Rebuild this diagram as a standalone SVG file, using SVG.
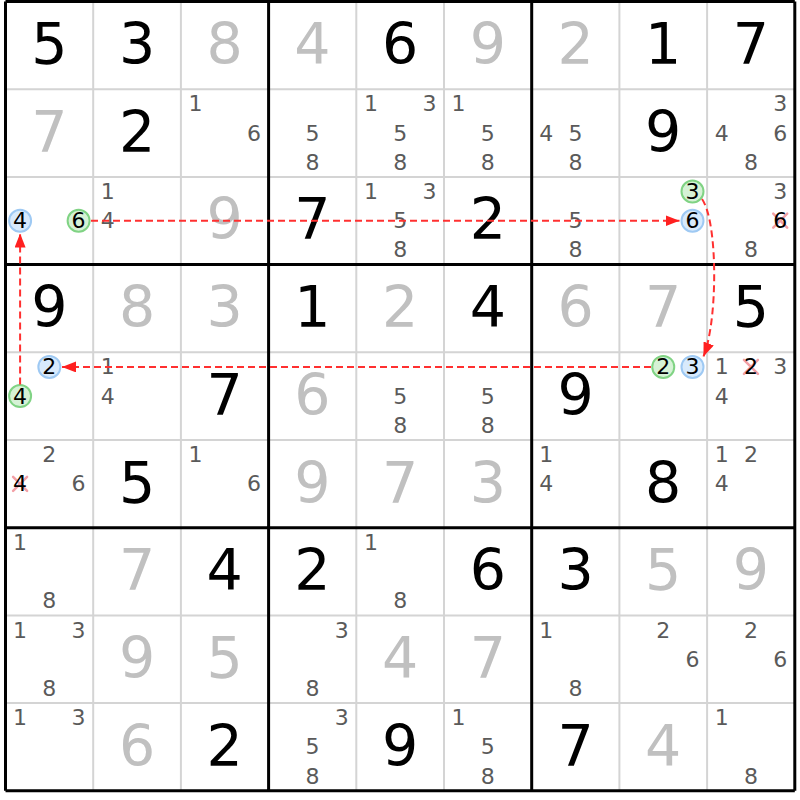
<svg xmlns="http://www.w3.org/2000/svg" width="800" height="800" viewBox="0 0 800 800">
<style>
text{font-family:"DejaVu Sans","Liberation Sans",sans-serif;text-anchor:middle}
.b{font-size:57px}
.k{fill:#000}
.g{fill:#c0c0c0}
.c{font-size:22px;fill:#5a5a5a}
.h{font-size:22px;fill:#000}
.thin{stroke:#d4d4d4;stroke-width:2}
.thick{stroke:#000;stroke-width:3}
.cb{fill:#d8eafc;stroke:#9ec9f3;stroke-width:2}
.cg{fill:#d6f2d6;stroke:#80d384;stroke-width:2}
.x{stroke:#f3a0a6;stroke-width:2.5;stroke-linecap:round}
.link{fill:none;stroke:#ff3030;stroke-width:2;stroke-dasharray:7 4}
</style>
<defs>
<marker id="ah" markerUnits="userSpaceOnUse" markerWidth="14" markerHeight="11" refX="14" refY="5.5" orient="auto">
<path d="M0,0 L14,5.5 L0,11 z" fill="#ff2020"/>
</marker>
</defs>
<rect x="0" y="0" width="800" height="800" fill="#fff"/>
<g id="grid">
<path class="thin" d="M93.2,1.5V790.8M180.9,1.5V790.8M356.3,1.5V790.8M444,1.5V790.8M619.4,1.5V790.8M707.1,1.5V790.8M5.5,89.2H794.8M5.5,176.9H794.8M5.5,352.3H794.8M5.5,440H794.8M5.5,615.4H794.8M5.5,703.1H794.8"/>
<path class="thick" d="M5.5,1.5V790.8M268.6,1.5V790.8M531.7,1.5V790.8M794.8,1.5V790.8M5.5,1.5H794.8M5.5,264.6H794.8M5.5,527.7H794.8M5.5,790.8H794.8"/>
</g>
<g id="row1">
<g id="r1c1"><text class="b k" x="49.35" y="64">5</text></g>
<g id="r1c2"><text class="b k" x="137.05" y="64">3</text></g>
<g id="r1c3"><text class="b g" x="224.75" y="64">8</text></g>
<g id="r1c4"><text class="b g" x="312.45" y="64">4</text></g>
<g id="r1c5"><text class="b k" x="400.15" y="64">6</text></g>
<g id="r1c6"><text class="b g" x="487.85" y="64">9</text></g>
<g id="r1c7"><text class="b g" x="575.55" y="64">2</text></g>
<g id="r1c8"><text class="b k" x="663.25" y="64">1</text></g>
<g id="r1c9"><text class="b k" x="750.95" y="64">7</text></g>
</g>
<g id="row2">
<g id="r2c1"><text class="b g" x="49.35" y="151.7">7</text></g>
<g id="r2c2"><text class="b k" x="137.05" y="151.7">2</text></g>
<g id="r2c3"><text class="c" x="195.5" y="111.3">1</text><text class="c" x="254" y="140.5">6</text></g>
<g id="r2c4"><text class="c" x="312.45" y="140.5">5</text><text class="c" x="312.45" y="169.7">8</text></g>
<g id="r2c5"><text class="c" x="370.9" y="111.3">1</text><text class="c" x="429.4" y="111.3">3</text><text class="c" x="400.15" y="140.5">5</text><text class="c" x="400.15" y="169.7">8</text></g>
<g id="r2c6"><text class="c" x="458.6" y="111.3">1</text><text class="c" x="487.85" y="140.5">5</text><text class="c" x="487.85" y="169.7">8</text></g>
<g id="r2c7"><text class="c" x="546.3" y="140.5">4</text><text class="c" x="575.55" y="140.5">5</text><text class="c" x="575.55" y="169.7">8</text></g>
<g id="r2c8"><text class="b k" x="663.25" y="151.7">9</text></g>
<g id="r2c9"><text class="c" x="780.2" y="111.3">3</text><text class="c" x="721.7" y="140.5">4</text><text class="c" x="780.2" y="140.5">6</text><text class="c" x="750.95" y="169.7">8</text></g>
</g>
<g id="row3">
<g id="r3c1"><circle class="cb" cx="20.1" cy="220.7" r="11"/><text class="h" x="20.1" y="228.2">4</text><circle class="cg" cx="78.6" cy="220.7" r="11"/><text class="h" x="78.6" y="228.2">6</text></g>
<g id="r3c2"><text class="c" x="107.8" y="199">1</text><text class="c" x="107.8" y="228.2">4</text></g>
<g id="r3c3"><text class="b g" x="224.75" y="239.4">9</text></g>
<g id="r3c4"><text class="b k" x="312.45" y="239.4">7</text></g>
<g id="r3c5"><text class="c" x="370.9" y="199">1</text><text class="c" x="429.4" y="199">3</text><text class="c" x="400.15" y="228.2">5</text><text class="c" x="400.15" y="257.4">8</text></g>
<g id="r3c6"><text class="b k" x="487.85" y="239.4">2</text></g>
<g id="r3c7"><text class="c" x="575.55" y="228.2">5</text><text class="c" x="575.55" y="257.4">8</text></g>
<g id="r3c8"><circle class="cg" cx="692.5" cy="191.5" r="11"/><text class="h" x="692.5" y="199">3</text><circle class="cb" cx="692.5" cy="220.7" r="11"/><text class="h" x="692.5" y="228.2">6</text></g>
<g id="r3c9"><text class="c" x="780.2" y="199">3</text><path class="x" d="M773.2,213.7L787.2,227.7M787.2,213.7L773.2,227.7"/><text class="h" x="780.2" y="228.2">6</text><text class="c" x="750.95" y="257.4">8</text></g>
</g>
<g id="row4">
<g id="r4c1"><text class="b k" x="49.35" y="327.1">9</text></g>
<g id="r4c2"><text class="b g" x="137.05" y="327.1">8</text></g>
<g id="r4c3"><text class="b g" x="224.75" y="327.1">3</text></g>
<g id="r4c4"><text class="b k" x="312.45" y="327.1">1</text></g>
<g id="r4c5"><text class="b g" x="400.15" y="327.1">2</text></g>
<g id="r4c6"><text class="b k" x="487.85" y="327.1">4</text></g>
<g id="r4c7"><text class="b g" x="575.55" y="327.1">6</text></g>
<g id="r4c8"><text class="b g" x="663.25" y="327.1">7</text></g>
<g id="r4c9"><text class="b k" x="750.95" y="327.1">5</text></g>
</g>
<g id="row5">
<g id="r5c1"><circle class="cb" cx="49.35" cy="366.9" r="11"/><text class="h" x="49.35" y="374.4">2</text><circle class="cg" cx="20.1" cy="396.1" r="11"/><text class="h" x="20.1" y="403.6">4</text></g>
<g id="r5c2"><text class="c" x="107.8" y="374.4">1</text><text class="c" x="107.8" y="403.6">4</text></g>
<g id="r5c3"><text class="b k" x="224.75" y="414.8">7</text></g>
<g id="r5c4"><text class="b g" x="312.45" y="414.8">6</text></g>
<g id="r5c5"><text class="c" x="400.15" y="403.6">5</text><text class="c" x="400.15" y="432.8">8</text></g>
<g id="r5c6"><text class="c" x="487.85" y="403.6">5</text><text class="c" x="487.85" y="432.8">8</text></g>
<g id="r5c7"><text class="b k" x="575.55" y="414.8">9</text></g>
<g id="r5c8"><circle class="cg" cx="663.25" cy="366.9" r="11"/><text class="h" x="663.25" y="374.4">2</text><circle class="cb" cx="692.5" cy="366.9" r="11"/><text class="h" x="692.5" y="374.4">3</text></g>
<g id="r5c9"><text class="c" x="721.7" y="374.4">1</text><path class="x" d="M743.95,359.9L757.95,373.9M757.95,359.9L743.95,373.9"/><text class="h" x="750.95" y="374.4">2</text><text class="c" x="780.2" y="374.4">3</text><text class="c" x="721.7" y="403.6">4</text></g>
</g>
<g id="row6">
<g id="r6c1"><text class="c" x="49.35" y="462.1">2</text><path class="x" d="M13.1,476.8L27.1,490.8M27.1,476.8L13.1,490.8"/><text class="h" x="20.1" y="491.3">4</text><text class="c" x="78.6" y="491.3">6</text></g>
<g id="r6c2"><text class="b k" x="137.05" y="502.5">5</text></g>
<g id="r6c3"><text class="c" x="195.5" y="462.1">1</text><text class="c" x="254" y="491.3">6</text></g>
<g id="r6c4"><text class="b g" x="312.45" y="502.5">9</text></g>
<g id="r6c5"><text class="b g" x="400.15" y="502.5">7</text></g>
<g id="r6c6"><text class="b g" x="487.85" y="502.5">3</text></g>
<g id="r6c7"><text class="c" x="546.3" y="462.1">1</text><text class="c" x="546.3" y="491.3">4</text></g>
<g id="r6c8"><text class="b k" x="663.25" y="502.5">8</text></g>
<g id="r6c9"><text class="c" x="721.7" y="462.1">1</text><text class="c" x="750.95" y="462.1">2</text><text class="c" x="721.7" y="491.3">4</text></g>
</g>
<g id="row7">
<g id="r7c1"><text class="c" x="20.1" y="549.8">1</text><text class="c" x="49.35" y="608.2">8</text></g>
<g id="r7c2"><text class="b g" x="137.05" y="590.2">7</text></g>
<g id="r7c3"><text class="b k" x="224.75" y="590.2">4</text></g>
<g id="r7c4"><text class="b k" x="312.45" y="590.2">2</text></g>
<g id="r7c5"><text class="c" x="370.9" y="549.8">1</text><text class="c" x="400.15" y="608.2">8</text></g>
<g id="r7c6"><text class="b k" x="487.85" y="590.2">6</text></g>
<g id="r7c7"><text class="b k" x="575.55" y="590.2">3</text></g>
<g id="r7c8"><text class="b g" x="663.25" y="590.2">5</text></g>
<g id="r7c9"><text class="b g" x="750.95" y="590.2">9</text></g>
</g>
<g id="row8">
<g id="r8c1"><text class="c" x="20.1" y="637.5">1</text><text class="c" x="78.6" y="637.5">3</text><text class="c" x="49.35" y="695.9">8</text></g>
<g id="r8c2"><text class="b g" x="137.05" y="677.9">9</text></g>
<g id="r8c3"><text class="b g" x="224.75" y="677.9">5</text></g>
<g id="r8c4"><text class="c" x="341.7" y="637.5">3</text><text class="c" x="312.45" y="695.9">8</text></g>
<g id="r8c5"><text class="b g" x="400.15" y="677.9">4</text></g>
<g id="r8c6"><text class="b g" x="487.85" y="677.9">7</text></g>
<g id="r8c7"><text class="c" x="546.3" y="637.5">1</text><text class="c" x="575.55" y="695.9">8</text></g>
<g id="r8c8"><text class="c" x="663.25" y="637.5">2</text><text class="c" x="692.5" y="666.7">6</text></g>
<g id="r8c9"><text class="c" x="750.95" y="637.5">2</text><text class="c" x="780.2" y="666.7">6</text></g>
</g>
<g id="row9">
<g id="r9c1"><text class="c" x="20.1" y="725.2">1</text><text class="c" x="78.6" y="725.2">3</text></g>
<g id="r9c2"><text class="b g" x="137.05" y="765.6">6</text></g>
<g id="r9c3"><text class="b k" x="224.75" y="765.6">2</text></g>
<g id="r9c4"><text class="c" x="341.7" y="725.2">3</text><text class="c" x="312.45" y="754.4">5</text><text class="c" x="312.45" y="783.6">8</text></g>
<g id="r9c5"><text class="b k" x="400.15" y="765.6">9</text></g>
<g id="r9c6"><text class="c" x="458.6" y="725.2">1</text><text class="c" x="487.85" y="754.4">5</text><text class="c" x="487.85" y="783.6">8</text></g>
<g id="r9c7"><text class="b k" x="575.55" y="765.6">7</text></g>
<g id="r9c8"><text class="b g" x="663.25" y="765.6">4</text></g>
<g id="r9c9"><text class="c" x="721.7" y="725.2">1</text><text class="c" x="750.95" y="783.6">8</text></g>
</g>
<g id="connectors">
<path class="link" d="M20.1,384.5L20.1,233.5" marker-end="url(#ah)"/>
<path class="link" d="M91,220.7L679.5,220.7" marker-end="url(#ah)"/>
<path class="link" d="M702,199C718,222 718,320 703.5,356.5" marker-end="url(#ah)"/>
<path class="link" d="M651,366.9L62,366.9" marker-end="url(#ah)"/>
</g>
</svg>
